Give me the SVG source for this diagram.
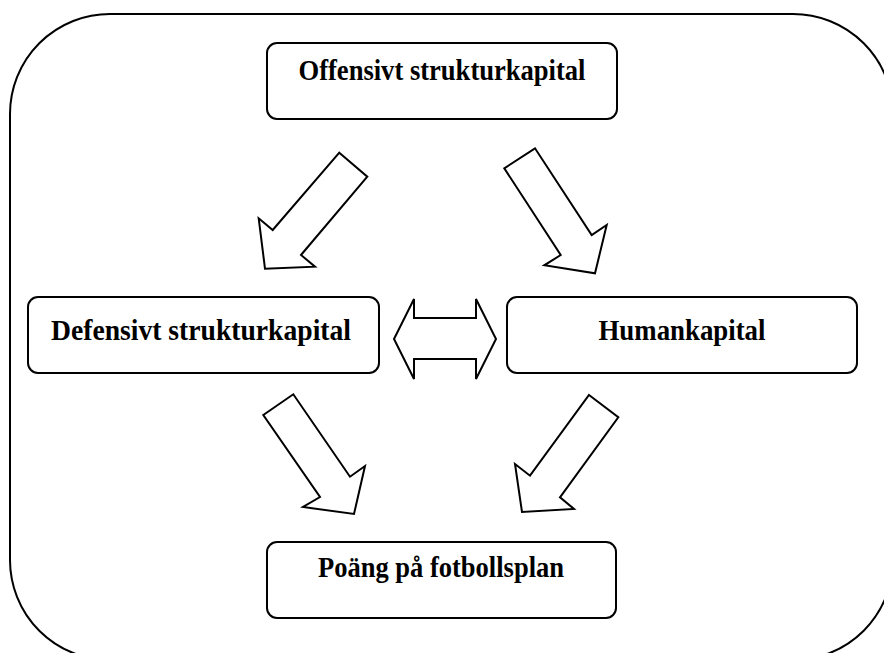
<svg xmlns="http://www.w3.org/2000/svg" width="884" height="653" viewBox="0 0 884 653">
<style>
.box{fill:#fff;stroke:#000;stroke-width:2}
.arr{fill:#fff;stroke:#000;stroke-width:2;stroke-linejoin:miter}
.lbl{font-family:"Liberation Serif","Times New Roman",serif;font-weight:bold;font-size:30px;fill:#000;text-anchor:middle}
</style>
<rect x="10" y="14" width="883" height="646" rx="100" ry="100" fill="#fff" stroke="#000" stroke-width="2"/>
<g id="connectors">
<polygon class="arr" points="339.3,152.7 367.3,176.7 301,255 315,266.7 265,268.7 258.7,218.3 272.7,230"/>
<polygon class="arr" points="504.3,168.3 535,148.3 591.7,235 606.7,225 595,273.3 544.3,265.3 560.7,255"/>
<polygon class="arr" points="394,339 414,299 414,318 476,318 476,299 496,339 476,379 476,359 414,359 414,379"/>
<polygon class="arr" points="263.3,415 293.3,394.3 350,476.7 365,466 354,514 303,507 320,497"/>
<polygon class="arr" points="589,395 618.3,417.3 560,497.3 574,509 522,512 515,464 530,475.7"/>
</g>
<g id="offensivt">
<rect class="box" x="267" y="43" width="350" height="76" rx="10"/>
<text class="lbl" x="442" y="80" textLength="287" lengthAdjust="spacingAndGlyphs">Offensivt strukturkapital</text>
</g>
<g id="defensivt">
<rect class="box" x="28" y="297" width="351" height="76" rx="10"/>
<text class="lbl" x="201" y="340" textLength="300" lengthAdjust="spacingAndGlyphs">Defensivt strukturkapital</text>
</g>
<g id="human">
<rect class="box" x="507" y="297" width="350" height="76" rx="10"/>
<text class="lbl" x="682" y="340" textLength="167" lengthAdjust="spacingAndGlyphs">Humankapital</text>
</g>
<g id="poang">
<rect class="box" x="267" y="542" width="349" height="76" rx="10"/>
<text class="lbl" x="441" y="577" textLength="246" lengthAdjust="spacingAndGlyphs">Poäng på fotbollsplan</text>
</g>
</svg>
